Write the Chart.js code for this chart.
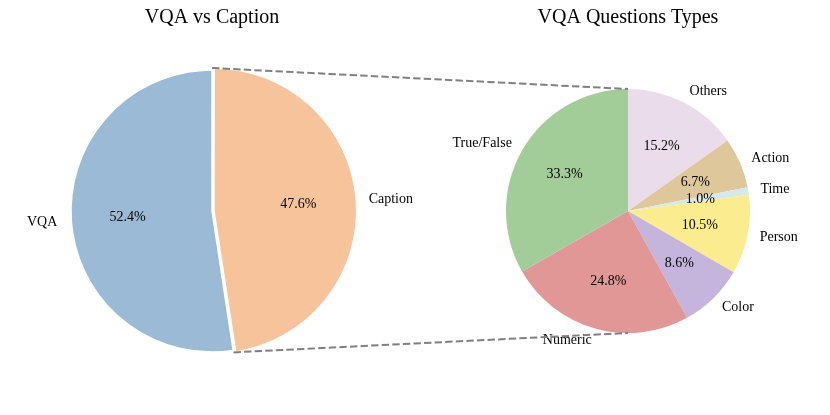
<!DOCTYPE html>
<html>
<head>
<meta charset="utf-8">
<script src="https://cdn.jsdelivr.net/npm/chart.js@4"></script>
<style>
  body { margin: 0; background: #fff; }
  #wrap { position: relative; width: 830px; height: 415px; }
  #wrap canvas { position: absolute; left: 0; top: 0; }
</style>
</head>
<body>
<div id="wrap">
  <canvas id="splitChart" width="830" height="415"></canvas>
  <canvas id="typeChart" width="830" height="415"></canvas>
</div>
<script>
// left pie: VQA vs Caption (clockwise from 12 o'clock)
const splitLabels = ['Caption', 'VQA'];
const splitValues = [47.6, 52.4];
const splitColors = ['#f6c39b', '#9bbad6'];

// right pie: VQA question types (clockwise from 12 o'clock)
const typeLabels = ['Others', 'Action', 'Time', 'Person', 'Color', 'Numeric', 'True/False'];
const typeValues = [15.2, 6.7, 1.0, 10.5, 8.6, 24.8, 33.3];
const typeColors = ['#eadcea', '#dec89b', '#d4e9e9', '#fcec90', '#c5b4db', '#e09795', '#a3cd98'];

Chart.defaults.font.family = "'Liberation Serif', 'Times New Roman', serif";
Chart.defaults.color = '#000';

// labels outside (1.1 R) and percentages inside (0.6 R), like matplotlib
const sliceLabels = {
  id: 'sliceLabels',
  afterDatasetsDraw(chart) {
    const ctx = chart.ctx;
    const ds = chart.data.datasets[0];
    const total = ds.data.reduce((a, b) => a + b, 0);
    ctx.save();
    ctx.fillStyle = '#000';
    ctx.font = "14px 'Liberation Serif', 'Times New Roman', serif";
    ctx.textBaseline = 'middle';
    chart.getDatasetMeta(0).data.forEach((arc, i) => {
      const p = arc.getProps(['x', 'y', 'startAngle', 'endAngle', 'outerRadius'], true);
      const mid = (p.startAngle + p.endAngle) / 2;
      const off = (ds.offset ? ds.offset[i] : 0) / 4;
      const cx = p.x + Math.cos(mid) * off;
      const cy = p.y + Math.sin(mid) * off;
      const r = p.outerRadius;
      ctx.textAlign = Math.cos(mid) > 0 ? 'left' : 'right';
      ctx.fillText(chart.data.labels[i], cx + Math.cos(mid) * r * 1.1, cy + Math.sin(mid) * r * 1.1);
      ctx.textAlign = 'center';
      ctx.fillText((ds.data[i] / total * 100).toFixed(1) + '%',
        cx + Math.cos(mid) * r * 0.6, cy + Math.sin(mid) * r * 0.6);
    });
    ctx.restore();
  }
};

function pieOptions(title, padding) {
  return {
    responsive: false,
    animation: false,
    events: [],
    layout: { padding: padding },
    plugins: {
      legend: { display: false },
      tooltip: { enabled: false },
      title: {
        display: true,
        text: title,
        font: { size: 20, weight: 'normal' },
        padding: { top: 6, bottom: 0 }
      }
    }
  };
}

const splitChart = new Chart(document.getElementById('splitChart'), {
  type: 'pie',
  data: {
    labels: splitLabels,
    datasets: [{
      data: splitValues,
      backgroundColor: splitColors,
      borderColor: '#fff',
      borderWidth: 1.5,
      offset: [8, 0],
      radius: 141
    }]
  },
  options: pieOptions('VQA vs Caption', { left: 0, right: 406, top: 0, bottom: 23 }),
  plugins: [sliceLabels]
});

// dashed lines from the Caption wedge to the right pie
const zoomLines = {
  id: 'zoomLines',
  afterDraw(chart) {
    const cap = splitChart.getDatasetMeta(0).data[0];
    const pie = chart.getDatasetMeta(0).data[0];
    const r1 = cap.outerRadius + 2;
    const ctx = chart.ctx;
    ctx.save();
    ctx.strokeStyle = '#808080';
    ctx.lineWidth = 2;
    ctx.setLineDash([7.4, 3.2]);
    ctx.beginPath();
    ctx.moveTo(cap.x + Math.cos(cap.startAngle) * r1, cap.y + Math.sin(cap.startAngle) * r1);
    ctx.lineTo(pie.x, pie.y - pie.outerRadius);
    ctx.moveTo(cap.x + Math.cos(cap.endAngle) * r1, cap.y + Math.sin(cap.endAngle) * r1);
    ctx.lineTo(pie.x, pie.y + pie.outerRadius);
    ctx.stroke();
    ctx.restore();
  }
};

new Chart(document.getElementById('typeChart'), {
  type: 'pie',
  data: {
    labels: typeLabels,
    datasets: [{
      data: typeValues,
      backgroundColor: typeColors,
      borderWidth: 0,
      radius: 122
    }]
  },
  options: pieOptions('VQA Questions Types', { left: 426, right: 0, top: 0, bottom: 23 }),
  plugins: [sliceLabels, zoomLines]
});
</script>
</body>
</html>
